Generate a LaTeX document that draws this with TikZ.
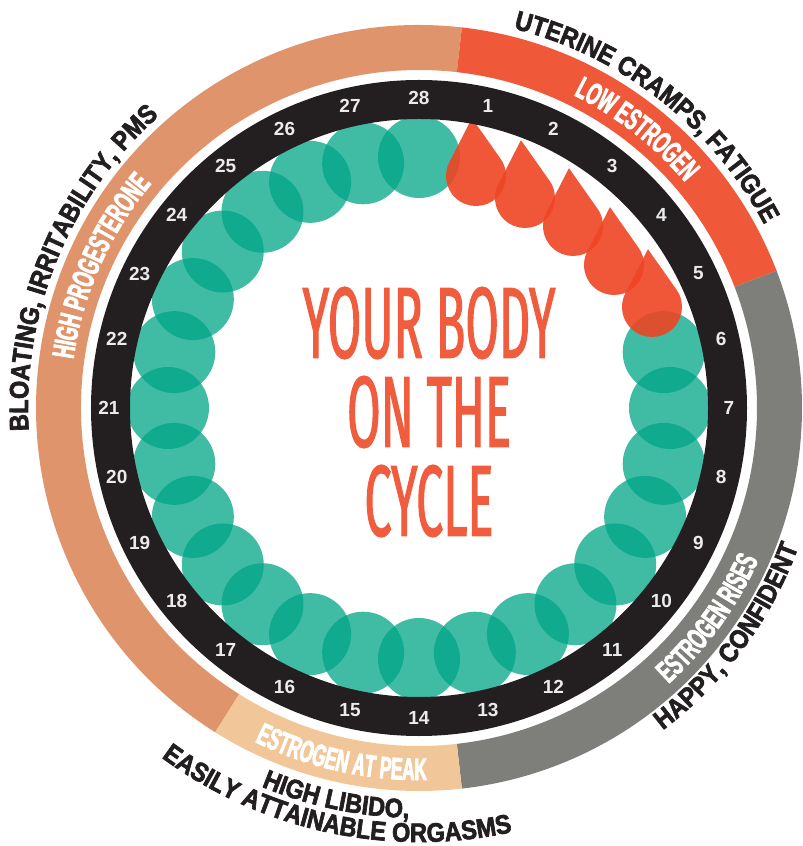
\documentclass[tikz,border=0pt]{standalone}
\usepackage{fontspec}
\setmainfont{Liberation Sans}
\newfontfamily\titlefont[FakeStretch=0.48, FakeBold=1]{Fira Sans}
\newfontfamily\bandfont[FakeStretch=0.56, FakeBold=2.5]{Liberation Sans Bold}
\newfontfamily\sidefont[FakeStretch=0.88, FakeBold=2.5]{Liberation Sans Bold}
\usetikzlibrary{decorations.text}

\definecolor{progpeach}{RGB}{224,148,108}
\definecolor{lowred}{RGB}{240,88,58}
\definecolor{risegray}{RGB}{126,126,122}
\definecolor{peaktan}{RGB}{241,198,153}
\definecolor{ringblack}{RGB}{35,31,32}
\definecolor{dayteal}{RGB}{0,165,135}
\definecolor{dropred}{RGB}{238,69,36}
\definecolor{titlered}{RGB}{240,92,62}

% one piece of the outer phase band: colour, from angle, to angle
\newcommand{\bandpart}[3]{%
  \fill[#1] (#2:383) arc[start angle=#2, end angle=#3, radius=383]
    -- (#3:338) arc[start angle=#3, end angle=#2, radius=338] -- cycle;}

\tikzset{
  daynum/.style={text=white!92!black, font=\bfseries\fontsize{13.5}{13.5}\selectfont, inner sep=0pt},
  bandtext/.style={decorate, decoration={text along path, text align=center, text color=white,
      text={|\bandfont\fontsize{22}{22}\selectfont|#1}}},
  sidetext/.style={decorate, decoration={text along path, text align=center, text color=ringblack,
      text={|\sidefont\fontsize{19}{19}\selectfont|#1}}},
}

\begin{document}
\begin{tikzpicture}[x=0.025cm, y=0.025cm]
  \useasboundingbox (-419,-438) rectangle (383,408);

  % outer phase band
  \bandpart{progpeach}{83.57}{237.86}
  \bandpart{lowred}{21}{83.57}
  \bandpart{risegray}{-83.57}{21}
  \bandpart{peaktan}{-122.14}{-83.57}

  % day circles
  \foreach \d in {6,...,28}
    \fill[dayteal, fill opacity=0.75] ({90-\d*360/28}:251) circle[radius=41];

  % drops, days 1-5
  \foreach \x/\y in {57/232,106/210,154/182,195/143,233/101}
    \fill[dropred, fill opacity=0.9, shift={(\x,\y)}, rotate=4]
      (0,58) -- (31:30) arc[start angle=31, end angle=-211, radius=30] -- cycle;

  % day ring
  \fill[ringblack, even odd rule] (0,0) circle[radius=328] (0,0) circle[radius=289];

  \foreach \d in {1,...,28}
    \node[daynum] (day\d) at ({90-\d*360/28}:310) {\d};

  % band labels
  \path[bandtext={LOW ESTROGEN}] (80:349) arc[start angle=80, end angle=24, radius=349];
  \path[bandtext={HIGH PROGESTERONE}] (190:349) arc[start angle=190, end angle=122, radius=349];
  \path[bandtext={ESTROGEN RISES}] (-66:372) arc[start angle=-66, end angle=-6, radius=372];
  \path[bandtext={ESTROGEN AT PEAK}] (-130:372) arc[start angle=-130, end angle=-75, radius=372];

  % outer labels
  \path[sidetext={UTERINE CRAMPS, FATIGUE}] (104:391) arc[start angle=104, end angle=0, radius=391];
  \path[sidetext={BLOATING, IRRITABILITY, PMS}] (210:391) arc[start angle=210, end angle=105, radius=391];
  \path[sidetext={HAPPY, CONFIDENT}] (-76:404) arc[start angle=-76, end angle=3, radius=404];
  \path[sidetext={HIGH LIBIDO,}] (-135:410) arc[start angle=-135, end angle=-69, radius=410];
  \path[sidetext={EASILY ATTAINABLE ORGASMS}] (-145:434) arc[start angle=-145, end angle=-59, radius=434];

  % title
  \node[text=titlered, align=center, inner sep=0pt,
        font=\titlefont\fontsize{72}{63.3}\selectfont] (title) at (10,-4)
    {YOUR BODY\\ON THE\\CYCLE};
\end{tikzpicture}
\end{document}
